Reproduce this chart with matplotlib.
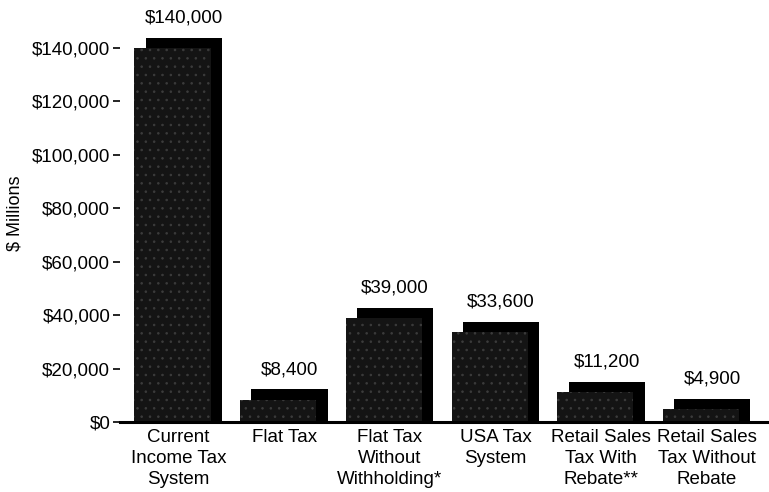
import matplotlib
matplotlib.use("Agg")
import matplotlib.pyplot as plt
import numpy as np

categories = ["Current\nIncome Tax\nSystem", "Flat Tax", "Flat Tax\nWithout\nWithholding*",
              "USA Tax\nSystem", "Retail Sales\nTax With\nRebate**", "Retail Sales\nTax Without\nRebate"]
values = [140000, 8400, 39000, 33600, 11200, 4900]
value_labels = ["$140,000", "$8,400", "$39,000", "$33,600", "$11,200", "$4,900"]
yticks = [0, 20000, 40000, 60000, 80000, 100000, 120000, 140000]
ytick_labels = ["$0", "$20,000", "$40,000", "$60,000", "$80,000", "$100,000", "$120,000", "$140,000"]

plt.rcParams['font.family'] = ['Liberation Sans', 'DejaVu Sans']
plt.rcParams['hatch.linewidth'] = 0.6

fig = plt.figure(figsize=(7.69, 4.92), dpi=100)
ax = fig.add_axes([120/769, 70/492, 649/769, (422-21)/492])

x = np.arange(len(values))
depth = 3800
width = 0.72
back = ax.bar(x + 0.05, [v + depth for v in values], width=width, color="#000000", zorder=2)
front = ax.bar(x - 0.057, values, width=width, color="#141414", zorder=3,
               hatch="..", edgecolor="#3c3c3c", linewidth=0)

for xi, v, lab in zip(x, values, value_labels):
    ax.annotate(lab, (xi + 0.05, v + depth), xytext=(0, 8), textcoords="offset points",
                ha="center", va="bottom", fontsize=13.5)

ax.set_xlim(-0.554, 5.587)
ax.set_ylim(0, 150000)
ax.set_yticks(yticks)
ax.set_yticklabels(ytick_labels, fontsize=13.5)
ax.set_xticks(x)
ax.set_xticklabels(categories, fontsize=13.5, linespacing=1.3)
ax.tick_params(axis='x', length=0, pad=5)
ax.tick_params(axis='y', length=5, width=1.2, pad=2, direction='out')
for s in ["top", "right", "left"]:
    ax.spines[s].set_visible(False)
ax.spines["bottom"].set_linewidth(2.2)
ax.spines["bottom"].set_zorder(4)

fig.text(15/769, 1 - 213/492, "$ Millions", rotation=90, ha="center", va="center", fontsize=13)

fig.savefig("out.png", dpi=100)
